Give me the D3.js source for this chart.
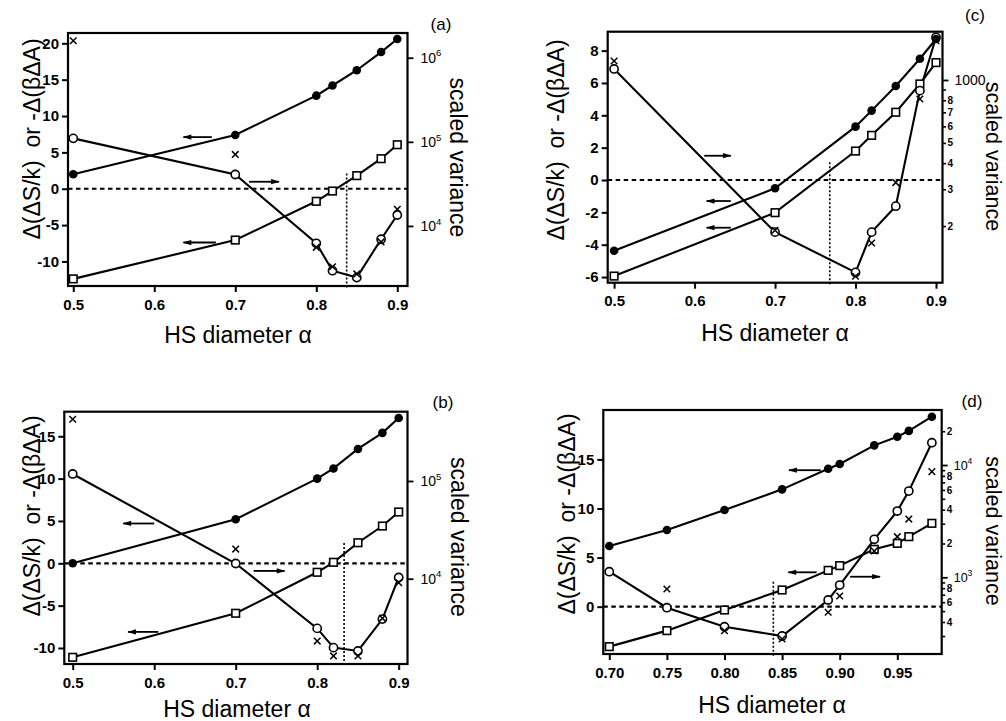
<!DOCTYPE html>
<html>
<head>
<meta charset="utf-8">
<script src="https://cdn.jsdelivr.net/npm/d3@7"></script>
<style>
  body { margin: 0; background: #fff; }
  svg { display: block; }
  .title { white-space: pre; }
</style>
</head>
<body>
<svg id="fig" width="1006" height="721"></svg>
<script>
// ---------- Panel (a) ----------
const alphaA     = [0.5, 0.7, 0.8, 0.82, 0.85, 0.88, 0.9];
const entropyA   = [2.0, 7.4, 12.8, 14.2, 16.3, 18.8, 20.6];        // filled circles, left axis
const freeEnA    = [-12.4, -7.06, -1.73, -0.32, 1.8, 4.13, 6.05];   // open squares, left axis
const varOpenA   = [1.10e5, 4.09e4, 6.22e3, 2.94e3, 2.43e3, 6.95e3, 1.35e4]; // open circles, right axis
const varCrossA  = [1.59e6, 7.08e4, 5.57e3, 3.27e3, 2.69e3, 6.46e3, 1.58e4]; // crosses, right axis
const crossAlphaA = alphaA;

// ---------- Panel (b) ----------
const alphaB     = [0.5, 0.7, 0.8, 0.82, 0.85, 0.88, 0.9];
const entropyB   = [0.0, 5.2, 10.0, 11.2, 13.5, 15.4, 17.15];
const freeEnB    = [-11.1, -5.9, -1.06, 0.12, 2.43, 4.4, 6.06];
const varOpenB   = [1.18e5, 1.43e4, 3.10e3, 1.97e3, 1.82e3, 3.86e3, 1.03e4];
const varCrossB  = [4.28e5, 2.01e4, 2.30e3, 1.62e3, 1.62e3, 3.93e3, 9.1e3];
const crossAlphaB = alphaB;

// ---------- Panel (c) ----------
const alphaC     = [0.5, 0.7, 0.8, 0.82, 0.85, 0.88, 0.9];
const entropyC   = [-4.37, -0.51, 3.30, 4.29, 5.81, 7.50, 8.72];
const freeEnC    = [-5.94, -2.02, 1.79, 2.76, 4.19, 5.94, 7.26];
const varOpenC   = [1129, 187, 120, 187, 249, 889, 1600];
const varCrossC  = [1233, 191, 115, 166, 323, 811, 1541];
const crossAlphaC = alphaC;

// ---------- Panel (d) ----------
const alphaD     = [0.70, 0.75, 0.80, 0.85, 0.89, 0.90, 0.93, 0.95, 0.96, 0.98];
const entropyD   = [6.18, 7.81, 9.85, 11.95, 14.05, 14.53, 16.43, 17.3, 17.9, 19.35];
const freeEnD    = [-4.07, -2.44, -0.34, 1.7, 3.7, 4.18, 5.84, 6.45, 7.13, 8.49];
const varOpenD   = [1122, 536, 363, 300, 628, 853, 2180, 3890, 5860, 15800];
const crossAlphaD = [0.75, 0.80, 0.85, 0.89, 0.90, 0.93, 0.95, 0.96, 0.98];
const varCrossD  = [787, 334, 282, 488, 682, 1714, 2300, 3300, 8730];

// ---------- Tick values and labels ----------
const xTicksABC  = [0.5, 0.6, 0.7, 0.8, 0.9];
const xTicksD    = [0.70, 0.75, 0.80, 0.85, 0.90, 0.95];
const yTicksA    = [-10, -5, 0, 5, 10, 15, 20];
const yTicksB    = [-10, -5, 0, 5, 10, 15];
const yTicksC    = [-6, -4, -2, 0, 2, 4, 6, 8];
const yTicksD    = [0, 5, 10, 15];

const vMajorA = [1e4, 1e5, 1e6], vMajorLabelA = ["10^4", "10^5", "10^6"];
const vMajorB = [1e4, 1e5],      vMajorLabelB = ["10^4", "10^5"];
const vMajorC = [1000],          vMajorLabelC = ["1000"];
const vMinorC = [200, 300, 400, 500, 600, 700, 800, 900];
const vMinorLabelC = ["2", "3", "4", "5", "6", "7", "8", ""];
const vMajorD = [1e3, 1e4],      vMajorLabelD = ["10^3", "10^4"];
const vMinorD = [300, 400, 500, 600, 700, 800, 900, 2000, 3000, 4000, 5000, 6000, 7000, 8000, 9000, 20000];
const vMinorLabelD = ["", "4", "", "6", "", "8", "", "2", "", "4", "", "6", "", "8", "", "2"];

// Arrows pointing each curve to its axis: [from alpha, to alpha, height on left axis]
const arrowsA = [[0.671, 0.636, 7.1], [0.717, 0.754, 0.96], [0.676, 0.636, -7.4]];
const arrowsB = [[0.600, 0.562, 4.7], [0.722, 0.760, -0.9], [0.605, 0.568, -8.1]];
const arrowsC = [[0.612, 0.645, 1.5], [0.645, 0.615, -1.3], [0.645, 0.615, -2.95]];
const arrowsD = [[0.8835, 0.856, 13.9], [0.880, 0.8554, 3.5], [0.909, 0.935, 3.05]];

// Crossing point markers (vertical dotted line): [alpha, upper end on left axis]
const critA = [0.8375, 2.1];
const critB = [0.833, 2.4];
const critC = [0.768, 1.1];
const critD = [0.8424, 2.55];

const LEFT_TITLE  = "Δ(ΔS/k)  or -Δ(βΔA)";
const RIGHT_TITLE = "scaled variance";
const X_TITLE     = "HS diameter α";

const FONT = "'Liberation Sans', Arial, Helvetica, sans-serif";
const svg = d3.select("#fig");

const defs = svg.append("defs");
defs.append("marker")
  .attr("id", "arrowhead")
  .attr("viewBox", "0 -4 10 8")
  .attr("refX", 9).attr("refY", 0)
  .attr("markerWidth", 10).attr("markerHeight", 7)
  .attr("markerUnits", "userSpaceOnUse")
  .attr("orient", "auto")
  .append("path").attr("d", "M0,-3L10,0L0,3Z").attr("fill", "#000");

function zip(xs, ys) { return xs.map((v, i) => [v, ys[i]]); }

function addPowerLabel(sel, label, size) {
  const parts = label.split("^");
  sel.append("tspan").text(parts[0]);
  if (parts.length > 1) {
    sel.append("tspan")
      .attr("dy", -size * 0.45)
      .attr("font-size", size * 0.68)
      .text(parts[1]);
  }
}

function drawPanel(p) {
  const g = svg.append("g");
  const x  = d3.scaleLinear().domain(p.xDomain).range([p.left, p.right]);
  const yL = d3.scaleLinear().domain(p.yDomain).range([p.bottom, p.top]);
  const yR = d3.scaleLog().domain(p.vDomain).range([p.bottom, p.top]);

  // zero reference line
  g.append("line")
    .attr("x1", p.left).attr("x2", p.right)
    .attr("y1", yL(0)).attr("y2", yL(0))
    .attr("stroke", "#000").attr("stroke-width", 2.2)
    .attr("stroke-dasharray", "4.5,3.5");

  // dotted vertical line at the crossing
  g.append("line")
    .attr("x1", x(p.crit[0])).attr("x2", x(p.crit[0]))
    .attr("y1", yL(p.crit[1])).attr("y2", p.bottom + 2)
    .attr("stroke", "#000").attr("stroke-width", 1.6)
    .attr("stroke-dasharray", "2,2");

  const lineL = d3.line().x(d => x(d[0])).y(d => yL(d[1]));
  const lineR = d3.line().x(d => x(d[0])).y(d => yR(d[1]));

  const ent = zip(p.alpha, p.entropy);
  const fe  = zip(p.alpha, p.free);
  const vo  = zip(p.alpha, p.varOpen);
  const vx  = zip(p.crossAlpha, p.varCross);

  [lineL(ent), lineL(fe), lineR(vo)].forEach(d => {
    g.append("path").attr("d", d)
      .attr("fill", "none").attr("stroke", "#000").attr("stroke-width", 2.1);
  });

  // arrows
  p.arrows.forEach(a => {
    g.append("line")
      .attr("x1", x(a[0])).attr("x2", x(a[1]))
      .attr("y1", yL(a[2])).attr("y2", yL(a[2]))
      .attr("stroke", "#000").attr("stroke-width", 1.8)
      .attr("marker-end", "url(#arrowhead)");
  });

  // markers
  g.selectAll(".sq").data(fe).join("rect")
    .attr("x", d => x(d[0]) - 3.8).attr("y", d => yL(d[1]) - 3.8)
    .attr("width", 7.6).attr("height", 7.6)
    .attr("fill", "#fff").attr("stroke", "#000").attr("stroke-width", 1.6);

  g.selectAll(".oc").data(vo).join("circle")
    .attr("cx", d => x(d[0])).attr("cy", d => yR(d[1])).attr("r", 4.1)
    .attr("fill", "#fff").attr("stroke", "#000").attr("stroke-width", 1.6);

  g.selectAll(".fc").data(ent).join("circle")
    .attr("cx", d => x(d[0])).attr("cy", d => yL(d[1])).attr("r", 4.3)
    .attr("fill", "#000");

  const cs = 3.3;
  g.selectAll(".cx").data(vx).join("path")
    .attr("d", d => {
      const cx = x(d[0]), cy = yR(d[1]);
      return `M${cx - cs},${cy - cs}L${cx + cs},${cy + cs}M${cx - cs},${cy + cs}L${cx + cs},${cy - cs}`;
    })
    .attr("stroke", "#000").attr("stroke-width", 1.5).attr("fill", "none");

  // bottom axis
  const gx = g.append("g").attr("transform", `translate(0,${p.bottom})`)
    .call(d3.axisBottom(x).tickValues(p.xTicks).tickFormat(d3.format(p.xFmt))
      .tickSize(6).tickSizeOuter(0).tickPadding(7));
  // left axis
  const gy = g.append("g").attr("transform", `translate(${p.left},0)`)
    .call(d3.axisLeft(yL).tickValues(p.yTicks).tickFormat(d => String(d))
      .tickSize(6).tickSizeOuter(0).tickPadding(3));
  [gx, gy].forEach(ax => {
    ax.select(".domain").remove();
    ax.selectAll(".tick line").attr("stroke", "#000").attr("stroke-width", 2);
    ax.selectAll(".tick text")
      .attr("fill", "#000").attr("font-family", FONT)
      .attr("font-size", 15).attr("font-weight", "bold");
  });

  // right log axis: major ticks
  const gr = g.append("g").attr("transform", `translate(${p.right},0)`)
    .call(d3.axisRight(yR).tickValues(p.vMajor).tickFormat(() => "")
      .tickSize(6).tickSizeOuter(0));
  gr.select(".domain").remove();
  gr.selectAll(".tick line").attr("stroke", "#000").attr("stroke-width", 1.8);
  p.vMajor.forEach((v, i) => {
    const t = g.append("text")
      .attr("x", p.right + p.majorGap).attr("y", yR(v)).attr("dy", "0.36em")
      .attr("font-family", FONT).attr("font-size", p.majorSize).attr("fill", "#000");
    addPowerLabel(t, p.vMajorLabel[i], p.majorSize);
  });
  // right log axis: minor ticks
  if (p.vMinor) {
    const gm = g.append("g").attr("transform", `translate(${p.right},0)`)
      .call(d3.axisRight(yR).tickValues(p.vMinor).tickFormat(() => "")
        .tickSize(3.5).tickSizeOuter(0));
    gm.select(".domain").remove();
    gm.selectAll(".tick line").attr("stroke", "#000").attr("stroke-width", 1.6);
    p.vMinor.forEach((v, i) => {
      if (!p.vMinorLabel[i]) return;
      g.append("text")
        .attr("x", p.right + 5).attr("y", yR(v)).attr("dy", "0.36em")
        .attr("font-family", FONT).attr("font-size", 10).attr("font-weight", "bold")
        .attr("fill", "#000").text(p.vMinorLabel[i]);
    });
  }

  // frame
  g.append("rect")
    .attr("x", p.left).attr("y", p.top)
    .attr("width", p.right - p.left).attr("height", p.bottom - p.top)
    .attr("fill", "none").attr("stroke", "#000").attr("stroke-width", 2.2);

  // titles
  g.append("text").attr("class", "title")
    .attr("transform", `translate(${p.leftTitle[0]},${p.leftTitle[1]}) rotate(-90)`)
    .attr("text-anchor", "middle").attr("dy", "0.3em")
    .attr("font-family", FONT).attr("font-size", 23).attr("fill", "#000")
    .text(LEFT_TITLE);
  g.append("text").attr("class", "title")
    .attr("transform", `translate(${p.rightTitle[0]},${p.rightTitle[1]}) rotate(90)`)
    .attr("text-anchor", "middle").attr("dy", "0.3em")
    .attr("font-family", FONT).attr("font-size", p.rightTitleSize).attr("fill", "#000")
    .text(RIGHT_TITLE);
  g.append("text").attr("class", "title")
    .attr("x", p.xTitle[0]).attr("y", p.xTitle[1])
    .attr("text-anchor", "middle")
    .attr("font-family", FONT).attr("font-size", 23).attr("fill", "#000")
    .text(X_TITLE);
  g.append("text")
    .attr("x", p.tag[0]).attr("y", p.tag[1])
    .attr("text-anchor", "middle")
    .attr("font-family", FONT).attr("font-size", 17).attr("fill", "#000")
    .text(p.tagText);
}

drawPanel({
  left: 68, right: 407.5, top: 33, bottom: 286,
  xDomain: [0.4935, 0.9126], yDomain: [-13.38, 21.42], vDomain: [Math.pow(10, 3.286), Math.pow(10, 6.294)],
  alpha: alphaA, entropy: entropyA, free: freeEnA, varOpen: varOpenA,
  crossAlpha: crossAlphaA, varCross: varCrossA,
  xTicks: xTicksABC, xFmt: ".1f", yTicks: yTicksA,
  vMajor: vMajorA, vMajorLabel: vMajorLabelA, majorGap: 13, majorSize: 14,
  arrows: arrowsA, crit: critA,
  leftTitle: [33, 139], rightTitle: [457, 157.5], rightTitleSize: 23, xTitle: [238, 343],
  tag: [441, 30], tagText: "(a)"
});

drawPanel({
  left: 64.3, right: 407.5, top: 411.7, bottom: 664,
  xDomain: [0.4897, 0.9108], yDomain: [-11.89, 17.9], vDomain: [Math.pow(10, 3.127), Math.pow(10, 5.709)],
  alpha: alphaB, entropy: entropyB, free: freeEnB, varOpen: varOpenB,
  crossAlpha: crossAlphaB, varCross: varCrossB,
  xTicks: xTicksABC, xFmt: ".1f", yTicks: yTicksB,
  vMajor: vMajorB, vMajorLabel: vMajorLabelB, majorGap: 13, majorSize: 14,
  arrows: arrowsB, crit: critB,
  leftTitle: [33, 516], rightTitle: [458, 537], rightTitleSize: 23, xTitle: [237, 717],
  tag: [443, 407.5], tagText: "(b)"
});

drawPanel({
  left: 607.7, right: 942.5, top: 31.7, bottom: 282.7,
  xDomain: [0.49205, 0.90807], yDomain: [-6.35, 9.17], vDomain: [Math.pow(10, 2.030), Math.pow(10, 3.231)],
  alpha: alphaC, entropy: entropyC, free: freeEnC, varOpen: varOpenC,
  crossAlpha: crossAlphaC, varCross: varCrossC,
  xTicks: xTicksABC, xFmt: ".1f", yTicks: yTicksC,
  vMajor: vMajorC, vMajorLabel: vMajorLabelC, majorGap: 12, majorSize: 14,
  vMinor: vMinorC, vMinorLabel: vMinorLabelC,
  arrows: arrowsC, crit: critC,
  leftTitle: [557, 140], rightTitle: [992, 156.5], rightTitleSize: 21.5, xTitle: [775, 341],
  tag: [975, 21], tagText: "(c)"
});

drawPanel({
  left: 603.3, right: 941.7, top: 410, bottom: 654,
  xDomain: [0.6948, 0.98854], yDomain: [-4.82, 20.03], vDomain: [Math.pow(10, 2.317), Math.pow(10, 4.49)],
  alpha: alphaD, entropy: entropyD, free: freeEnD, varOpen: varOpenD,
  crossAlpha: crossAlphaD, varCross: varCrossD,
  xTicks: xTicksD, xFmt: ".2f", yTicks: yTicksD,
  vMajor: vMajorD, vMajorLabel: vMajorLabelD, majorGap: 12, majorSize: 12.5,
  vMinor: vMinorD, vMinorLabel: vMinorLabelD,
  arrows: arrowsD, crit: critD,
  leftTitle: [568, 514], rightTitle: [992, 531], rightTitleSize: 21.5, xTitle: [772, 713],
  tag: [972, 407], tagText: "(d)"
});
</script>
</body>
</html>
